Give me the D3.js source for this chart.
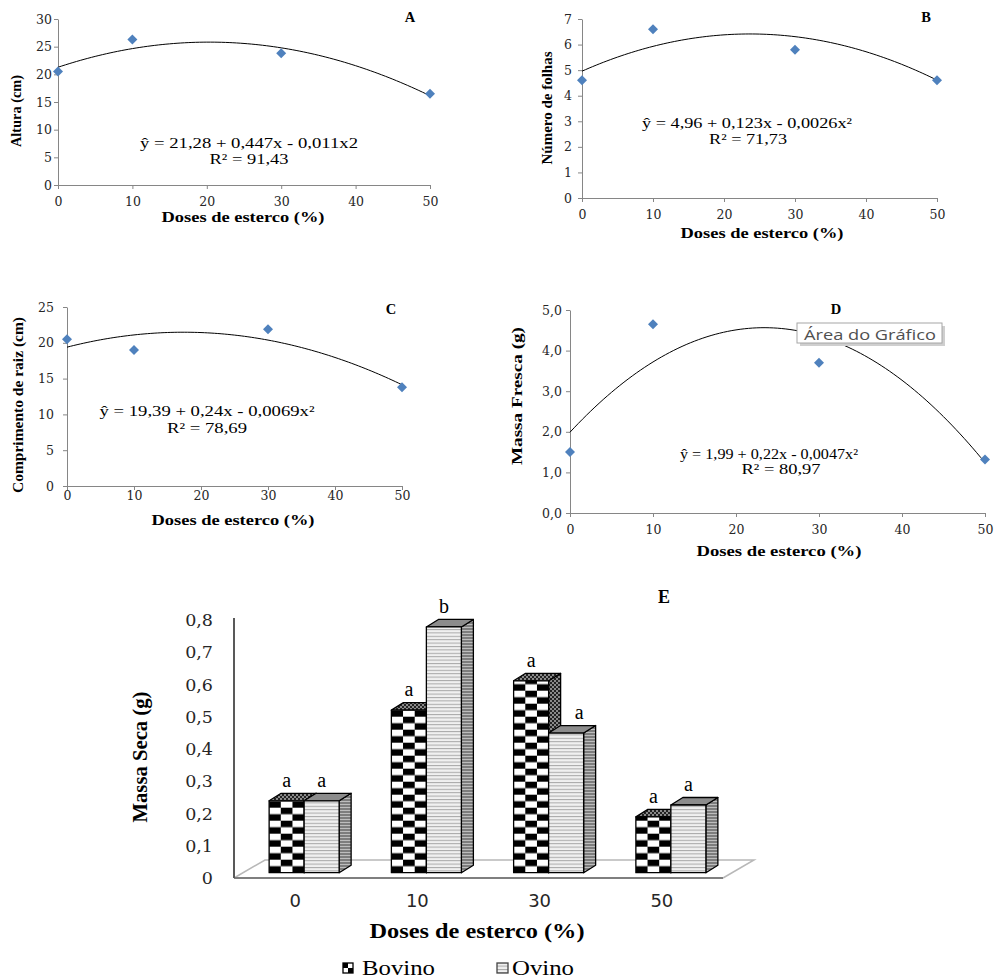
<!DOCTYPE html>
<html lang="pt">
<head>
  <meta charset="utf-8" />
  <title>Doses de esterco</title>
  <script src="https://cdn.jsdelivr.net/npm/d3@7"></script>
  <style>
    body { margin: 0; background: #fff; }
    svg { display: block; }
  </style>
</head>
<body>
<script>
  // ---- data ----
  const doses = [0, 10, 30, 50];

  const altura = [20.5, 26.3, 23.8, 16.5];
  const folhas = [4.6, 6.6, 5.8, 4.6];
  const raiz = [20.5, 19.0, 21.9, 13.8];
  const massaFresca = [1.5, 4.65, 3.7, 1.32];

  // printed regressions: y = a + b*x + c*x^2
  const coefAltura = [21.28, 0.447, -0.011];
  const coefFolhas = [4.96, 0.123, -0.0026];
  const coefRaiz = [19.39, 0.24, -0.0069];
  const coefMassaFresca = [1.99, 0.22, -0.0047];

  const eqAltura = ["ŷ = 21,28 + 0,447x - 0,011x2", "R² = 91,43"];
  const eqFolhas = ["ŷ = 4,96 + 0,123x - 0,0026x²", "R² = 71,73"];
  const eqRaiz = ["ŷ = 19,39 + 0,24x - 0,0069x²", "R² = 78,69"];
  const eqMassaFresca = ["ŷ = 1,99 + 0,22x - 0,0047x²", "R² = 80,97"];

  const categoriasE = ["0", "10", "30", "50"];
  const massaSecaBovino = [0.223, 0.504, 0.595, 0.173];
  const massaSecaOvino = [0.223, 0.762, 0.433, 0.210];
  const letrasBovino = ["a", "a", "a", "a"];
  const letrasOvino = ["a", "b", "a", "a"];
  const ticksE = [0, 0.1, 0.2, 0.3, 0.4, 0.5, 0.6, 0.7, 0.8];
  const seriesE = ["Bovino", "Ovino"];

  // ---- setup ----
  const serif = "'Liberation Serif', 'Times New Roman', serif";
  const tickFont = "'DejaVu Serif', serif";
  const ptBR = d3.formatLocale({decimal: ",", thousands: ".", grouping: [3], currency: ["", ""]});
  const f1 = ptBR.format(".1f");

  const svg = d3.select("body").append("svg")
      .attr("width", 995)
      .attr("height", 978);
  const defs = svg.append("defs");

  function label(g, str, x, y, o) {
    let t = g.append("text")
        .attr("x", x)
        .attr("y", y)
        .attr("text-anchor", o.anchor || "middle")
        .attr("dominant-baseline", o.baseline || "central")
        .attr("font-family", o.family || serif)
        .attr("font-size", o.size)
        .attr("font-weight", o.bold ? "bold" : "normal")
        .attr("fill", o.color || "#000")
        .text(str);
    if (o.len) t.attr("textLength", o.len).attr("lengthAdjust", "spacingAndGlyphs");
    if (o.rotate) t.attr("transform", `rotate(-90, ${x}, ${y})`);
    return t;
  }

  function scatterPanel(p) {
    let g = svg.append("g");
    let x = d3.scaleLinear([0, 50], [p.x0, p.x1]);
    let y = d3.scaleLinear([0, p.ymax], [p.y0, p.y1]);

    g.append("g")
        .attr("transform", `translate(0,${p.y0})`)
        .call(d3.axisBottom(x).tickValues(d3.range(0, 51, 10))
          .tickSize(4).tickSizeOuter(0).tickPadding(p.xPad));
    g.append("g")
        .attr("transform", `translate(${p.x0},0)`)
        .call(d3.axisLeft(y).tickValues(d3.range(0, p.ymax + p.ystep / 2, p.ystep))
          .tickFormat(p.fmt || (d => d))
          .tickSize(4).tickSizeOuter(0).tickPadding(p.yPad));
    g.selectAll(".domain, .tick line").attr("stroke", "#868686");
    g.selectAll(".tick text")
        .attr("font-family", tickFont)
        .attr("font-size", 12.5)
        .attr("fill", "#262626");

    // trend line from the printed regression
    let c = p.coef;
    g.append("path")
        .datum(d3.range(0, 50.01, 0.5))
        .attr("fill", "none")
        .attr("stroke", "#000")
        .attr("stroke-width", 1)
        .attr("d", d3.line().x(d => x(d)).y(d => y(c[0] + c[1] * d + c[2] * d * d)));

    g.append("g")
        .selectAll("path")
        .data(p.values)
        .join("path")
        .attr("d", d3.symbol(d3.symbolSquare, 50))
        .attr("transform", (d, i) => `translate(${x(doses[i])},${y(d)}) rotate(45)`)
        .attr("fill", "#4f81bd");

    label(g, p.letter, p.letterPos[0], p.letterPos[1], {size: 14.5, bold: true});
    label(g, p.ylab, p.ylabPos[0], p.ylabPos[1], {size: 14, bold: true, rotate: true, len: p.ylabLen});
    label(g, "Doses de esterco (%)", p.xlabPos[0], p.xlabPos[1], {size: 14, bold: true, len: p.xlabLen});
    label(g, p.eq[0], p.eqPos[0], p.eqPos[1], {size: 14, len: p.eqLen});
    label(g, p.eq[1], p.r2Pos[0], p.r2Pos[1], {size: 14, len: p.r2Len});
    return g;
  }

  scatterPanel({
    values: altura, coef: coefAltura, eq: eqAltura, ymax: 30, ystep: 5,
    x0: 58, x1: 430, y0: 185, y1: 19, xPad: 8, yPad: 2,
    letter: "A", letterPos: [410, 17],
    ylab: "Altura (cm)", ylabPos: [16, 111], ylabLen: 72,
    xlabPos: [243, 217], xlabLen: 163,
    eqPos: [249, 143], eqLen: 218, r2Pos: [249, 159], r2Len: 79
  });

  scatterPanel({
    values: folhas, coef: coefFolhas, eq: eqFolhas, ymax: 7, ystep: 1,
    x0: 582, x1: 937, y0: 198, y1: 19, xPad: 8, yPad: 6,
    letter: "B", letterPos: [926, 17],
    ylab: "Número de folhas", ylabPos: [547, 108], ylabLen: 113,
    xlabPos: [762, 233], xlabLen: 163,
    eqPos: [747, 123], eqLen: 210, r2Pos: [748, 139], r2Len: 78
  });

  scatterPanel({
    values: raiz, coef: coefRaiz, eq: eqRaiz, ymax: 25, ystep: 5,
    x0: 67, x1: 402, y0: 486, y1: 307, xPad: 1, yPad: 9,
    letter: "C", letterPos: [391, 309],
    ylab: "Comprimento de raiz (cm)", ylabPos: [18, 405], ylabLen: 176,
    xlabPos: [233, 520], xlabLen: 163,
    eqPos: [207, 411], eqLen: 215, r2Pos: [207, 428], r2Len: 80
  });

  let panelD = scatterPanel({
    values: massaFresca, coef: coefMassaFresca, eq: eqMassaFresca, ymax: 5, ystep: 1, fmt: f1,
    x0: 570, x1: 985, y0: 513, y1: 310, xPad: 8, yPad: 4,
    letter: "D", letterPos: [836, 309],
    ylab: "Massa Fresca (g)", ylabPos: [517, 396], ylabLen: 138,
    xlabPos: [779, 551], xlabLen: 165,
    eqPos: [769, 454], eqLen: 178, r2Pos: [781, 469], r2Len: 79
  });

  // the Excel hover tip that was captured in the screenshot
  panelD.append("rect").attr("x", 800).attr("y", 326).attr("width", 145).attr("height", 20).attr("fill", "#cfcfcf");
  panelD.append("rect").attr("x", 797).attr("y", 323).attr("width", 145).attr("height", 20)
      .attr("fill", "#fff").attr("stroke", "#a6a6a6");
  label(panelD, "Área do Gráfico", 804, 333.5, {size: 15, anchor: "start", family: "'Open Sans', sans-serif", color: "#505050", len: 132});

  // ---- panel E: 3-D clustered columns ----
  const gE = svg.append("g");
  const floor = {x0: 234, x1: 723, dx: 31, dy: -18};
  const barW = 35, depth = [12, -7.5], inset = [9, -5.3];

  let xE = d3.scaleBand(categoriasE, [floor.x0, floor.x1]);
  let yE = d3.scaleLinear([0, 0.8], [878, 620]);
  let y0 = yE(0);

  // patterns
  let small = defs.append("pattern").attr("id", "chkSmall")
      .attr("patternUnits", "userSpaceOnUse").attr("width", 4).attr("height", 4);
  small.append("rect").attr("width", 4).attr("height", 4).attr("fill", "#8a8a8a");
  small.append("rect").attr("width", 2).attr("height", 2).attr("fill", "#222");
  small.append("rect").attr("x", 2).attr("y", 2).attr("width", 2).attr("height", 2).attr("fill", "#222");

  let lines = defs.append("pattern").attr("id", "ovLines")
      .attr("patternUnits", "userSpaceOnUse").attr("width", 4).attr("height", 3.4);
  lines.append("rect").attr("width", 4).attr("height", 3.4).attr("fill", "#f0f0f0");
  lines.append("rect").attr("width", 4).attr("height", 1).attr("fill", "#a8a8a8");

  let side = defs.append("pattern").attr("id", "ovSide")
      .attr("patternUnits", "userSpaceOnUse").attr("width", 4).attr("height", 3);
  side.append("rect").attr("width", 4).attr("height", 3).attr("fill", "#7d7d7d");
  side.append("rect").attr("width", 4).attr("height", 1).attr("fill", "#bdbdbd");

  let legChk = defs.append("pattern").attr("id", "legChk")
      .attr("patternUnits", "userSpaceOnUse").attr("x", 343).attr("y", 963).attr("width", 10).attr("height", 10);
  legChk.append("rect").attr("width", 10).attr("height", 10).attr("fill", "#fff");
  legChk.append("rect").attr("width", 5).attr("height", 5).attr("fill", "#000");
  legChk.append("rect").attr("x", 5).attr("y", 5).attr("width", 5).attr("height", 5).attr("fill", "#000");

  // floor
  let fy = y0;
  gE.append("path")
      .attr("d", `M${floor.x0},${fy}L${floor.x0 + floor.dx},${fy + floor.dy}L${floor.x1 + floor.dx},${fy + floor.dy}L${floor.x1},${fy}`)
      .attr("fill", "none").attr("stroke", "#b8b8b8").attr("stroke-width", 1.5);
  gE.append("line")
      .attr("x1", floor.x0).attr("x2", floor.x1).attr("y1", fy).attr("y2", fy)
      .attr("stroke", "#7f7f7f").attr("stroke-width", 2);
  gE.append("line")
      .attr("x1", floor.x0).attr("x2", floor.x0).attr("y1", fy).attr("y2", yE(0.8) - 2)
      .attr("stroke", "#595959").attr("stroke-width", 2);

  // y tick labels
  let yAxisE = gE.append("g")
      .attr("transform", `translate(${floor.x0},0)`)
      .call(d3.axisLeft(yE).tickValues(ticksE).tickFormat(d => d === 0 ? "0" : f1(d)).tickSize(0).tickPadding(21));
  yAxisE.select(".domain").remove();
  yAxisE.selectAll("text").attr("font-family", tickFont).attr("font-size", 17.5).attr("fill", "#262626");

  // category labels
  let xAxisE = gE.append("g")
      .attr("transform", `translate(0,${y0})`)
      .call(d3.axisBottom(xE).tickSize(0).tickPadding(16));
  xAxisE.select(".domain").remove();
  xAxisE.selectAll("text").attr("font-family", "'DejaVu Sans', sans-serif").attr("font-size", 18).attr("fill", "#262626");

  // bars
  let bars = [];
  categoriasE.forEach((cat, i) => {
    [massaSecaBovino[i], massaSecaOvino[i]].forEach((v, s) => {
      let cx = xE(cat) + xE.bandwidth() / 2 + inset[0];
      bars.push({
        i: i, s: s, v: v,
        x: s === 0 ? cx - barW : cx,
        top: yE(v) + inset[1],
        bottom: y0 + inset[1],
        letter: s === 0 ? letrasBovino[i] : letrasOvino[i]
      });
    });
  });

  bars.filter(b => b.s === 0).forEach(b => {
    let cw = barW / 3, ch = 6.5;
    let p = defs.append("pattern").attr("id", "chk" + b.i)
        .attr("patternUnits", "userSpaceOnUse")
        .attr("x", b.x).attr("y", b.bottom)
        .attr("width", cw * 2).attr("height", ch * 2);
    p.append("rect").attr("width", cw * 2).attr("height", ch * 2).attr("fill", "#fff");
    p.append("rect").attr("y", ch).attr("width", cw).attr("height", ch).attr("fill", "#000");
    p.append("rect").attr("x", cw).attr("width", cw).attr("height", ch).attr("fill", "#000");
  });

  function poly(pts) { return "M" + pts.map(p => p.join(",")).join("L") + "Z"; }

  let barG = gE.append("g")
      .selectAll("g")
      .data(bars)
      .join("g")
      .attr("stroke", "#000")
      .attr("stroke-width", 1.3)
      .attr("stroke-linejoin", "round");

  barG.append("path")
      .attr("d", b => poly([[b.x + barW, b.top], [b.x + barW + depth[0], b.top + depth[1]],
                            [b.x + barW + depth[0], b.bottom + depth[1]], [b.x + barW, b.bottom]]))
      .attr("fill", b => b.s === 0 ? "url(#chkSmall)" : "url(#ovSide)");
  barG.append("path")
      .attr("d", b => poly([[b.x, b.top], [b.x + depth[0], b.top + depth[1]],
                            [b.x + barW + depth[0], b.top + depth[1]], [b.x + barW, b.top]]))
      .attr("fill", b => b.s === 0 ? "url(#chkSmall)" : "#8c8c8c");
  barG.append("rect")
      .attr("x", b => b.x)
      .attr("y", b => b.top)
      .attr("width", barW)
      .attr("height", b => b.bottom - b.top)
      .attr("fill", b => b.s === 0 ? `url(#chk${b.i})` : "url(#ovLines)");

  gE.append("g")
      .selectAll("text")
      .data(bars)
      .join("text")
      .attr("x", b => b.x + barW / 2 + (b.s === 1 && massaSecaBovino[b.i] > massaSecaOvino[b.i] ? 13 : 0))
      .attr("y", b => b.top - 14)
      .attr("text-anchor", "middle")
      .attr("font-family", serif)
      .attr("font-size", 20)
      .text(b => b.letter);

  label(gE, "E", 664, 597, {size: 18, bold: true});
  label(gE, "Massa Seca (g)", 140, 757, {size: 20.5, bold: true, rotate: true, len: 131});
  label(gE, "Doses de esterco (%)", 477, 931, {size: 20, bold: true, len: 215});

  // legend
  let leg = gE.append("g");
  leg.append("rect").attr("x", 343).attr("y", 963).attr("width", 10).attr("height", 10)
      .attr("fill", "url(#legChk)").attr("stroke", "#000").attr("stroke-width", 1.3);
  label(leg, seriesE[0], 362, 968, {size: 20, anchor: "start", len: 73});
  leg.append("rect").attr("x", 497).attr("y", 963).attr("width", 11).attr("height", 10)
      .attr("fill", "url(#ovLines)").attr("stroke", "#444").attr("stroke-width", 1.3);
  label(leg, seriesE[1], 512, 968, {size: 20, anchor: "start", len: 62});
</script>
</body>
</html>
